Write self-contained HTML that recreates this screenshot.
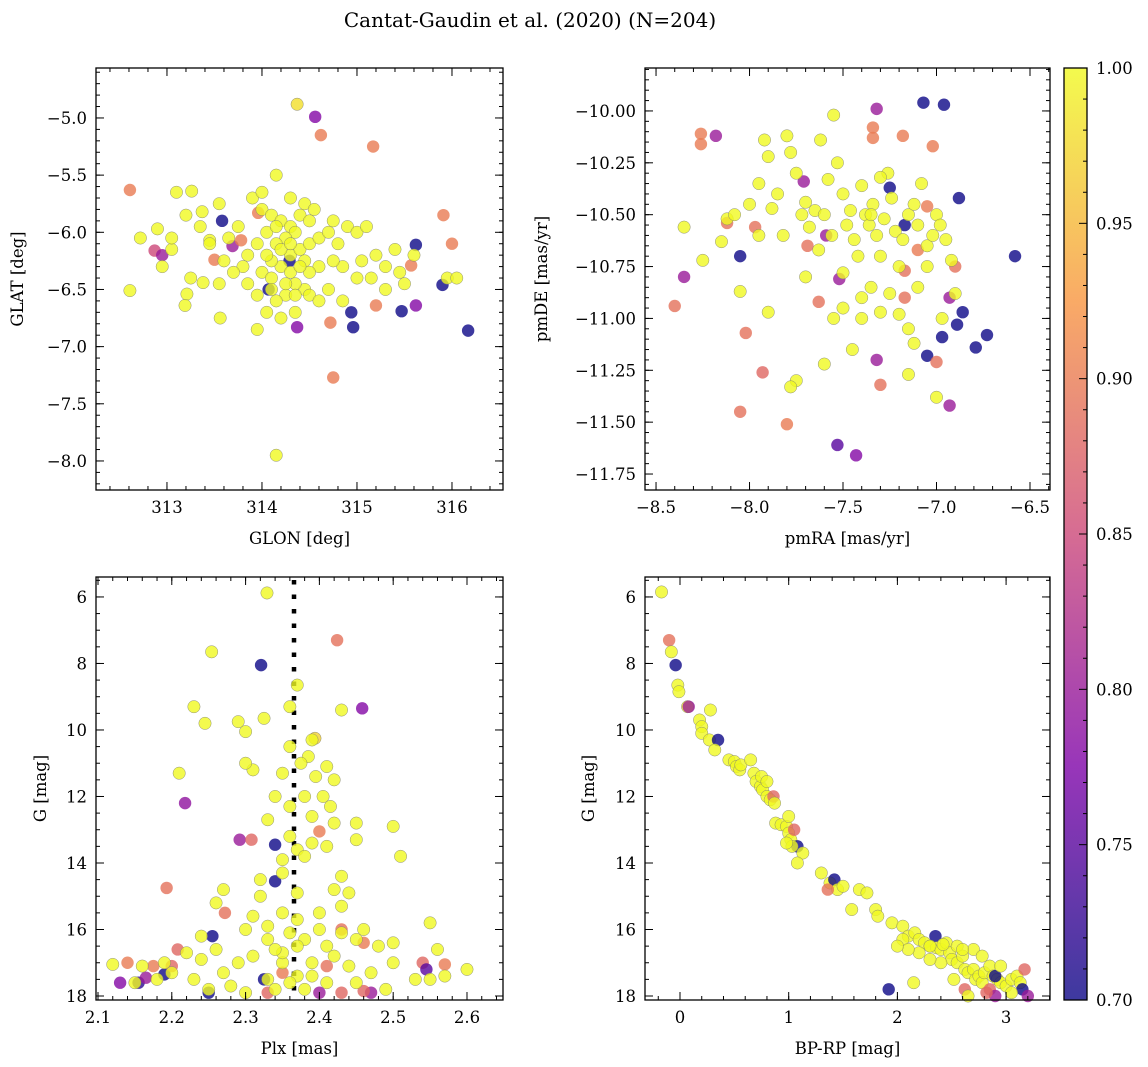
<!DOCTYPE html>
<html><head><meta charset="utf-8"><style>
body{margin:0;background:#fff;}
svg{display:block;font-family:"DejaVu Serif","Liberation Serif",serif;}
</style></head><body>
<svg id="fig" width="1148" height="1067" viewBox="0 0 1148 1067">
<text x="530" y="27" text-anchor="middle" font-size="20">Cantat-Gaudin et al. (2020) (N=204)</text>
</svg>
<script>
// Panel 1: GLON, GLAT, prob
const p1Lon=[312.61,312.61,312.87,312.95,312.72,312.9,313.05,313.21,313.19,313.26,313.38,313.37,313.45,313.5,313.56,313.58,313.69,313.78,313.96,314.07,314.15,314.37,314.56,314.62,315.17,315.91,316.0,316.17,315.9,315.62,315.62,315.47,315.2,314.94,314.96,314.75,314.72,314.37,314.29,315.57,
314.0,314.1,314.2,314.3,314.4,314.5,314.35,314.25,314.15,314.05,313.95,313.85,313.8,314.0,314.1,314.2,314.3,314.4,314.5,314.6,314.7,314.8,314.9,315.0,315.1,315.2,315.3,315.4,315.45,315.3,315.15,315.0,314.85,314.75,314.6,314.5,314.45,314.35,314.25,314.15,314.05,313.95,313.85,313.7,313.6,313.55,313.45,313.35,313.2,313.1,313.05,312.95,313.9,314.0,314.15,314.3,314.45,314.55,314.75,314.5,314.6,314.35,314.2,313.95,314.1,314.3,314.45,314.7,314.85,315.05,315.5,315.6,315.95,316.05,313.25,313.55,313.75,313.65,314.2,314.25,314.4,314.1,314.3,314.35,314.05,314.15];
const p1Lat=[-5.63,-6.51,-6.16,-6.2,-6.05,-5.97,-6.15,-6.54,-6.64,-5.64,-6.44,-5.82,-6.07,-6.24,-6.75,-5.9,-6.12,-6.07,-5.83,-6.5,-7.95,-4.88,-4.99,-5.15,-5.25,-5.85,-6.1,-6.86,-6.46,-6.11,-6.64,-6.69,-6.64,-6.7,-6.83,-7.27,-6.79,-6.83,-6.25,-6.29,
-5.8,-5.85,-5.9,-5.95,-5.85,-5.9,-6.0,-6.05,-6.1,-6.0,-6.1,-6.2,-6.3,-6.35,-6.4,-6.3,-6.2,-6.15,-6.1,-6.05,-6.0,-6.1,-5.95,-6.0,-5.95,-6.2,-6.3,-6.15,-6.35,-6.5,-6.4,-6.4,-6.3,-6.25,-6.3,-6.35,-6.5,-6.45,-6.55,-6.6,-6.7,-6.55,-6.45,-6.35,-6.25,-6.45,-6.1,-5.95,-5.85,-5.65,-6.05,-6.3,-5.7,-5.65,-5.5,-5.7,-5.75,-5.8,-5.9,-6.55,-6.6,-6.7,-6.75,-6.85,-6.25,-6.35,-6.25,-6.5,-6.6,-6.25,-6.45,-6.2,-6.4,-6.4,-6.4,-5.75,-5.95,-6.05,-6.15,-6.45,-6.3,-6.5,-6.1,-6.55,-6.2,-5.95];
const p1Prob=[0.9,1,0.85,0.8,1,1,1,1,1,1,1,1,1,0.9,1,0.7,0.8,0.9,0.9,0.7,1,0.98,0.78,0.9,0.9,0.9,0.9,0.7,0.7,0.7,0.78,0.7,0.9,0.7,0.7,0.9,0.9,0.78,0.7,0.9];
// Panel 2: pmRA, pmDE, prob
const p2Ra=[-7.07,-6.96,-7.32,-7.18,-7.02,-8.26,-8.26,-8.18,-7.25,-7.71,-7.34,-7.34,-6.88,-7.05,-6.58,-8.05,-7.69,-7.59,-8.35,-8.4,-8.12,-7.97,-8.02,-7.93,-8.05,-7.8,-7.63,-7.52,-7.53,-7.43,-7.32,-7.3,-7.17,-7.17,-7.1,-7.17,-6.93,-6.93,-7.05,-7.0,-6.9,-6.86,-6.89,-6.73,-6.79,-6.97,
-8.35,-8.25,-8.15,-8.12,-8.08,-8.05,-8.0,-7.95,-7.92,-7.9,-7.88,-7.85,-7.82,-7.8,-7.78,-7.75,-7.72,-7.7,-7.68,-7.65,-7.63,-7.6,-7.58,-7.56,-7.55,-7.53,-7.5,-7.48,-7.46,-7.44,-7.42,-7.4,-7.38,-7.36,-7.34,-7.32,-7.3,-7.28,-7.26,-7.24,-7.22,-7.2,-7.18,-7.15,-7.12,-7.1,-7.08,-7.05,-7.02,-7.0,-6.98,-6.95,-6.92,-6.9,-7.05,-7.1,-7.15,-7.2,-7.25,-7.35,-7.4,-7.45,-7.5,-7.55,-7.6,-7.7,-7.75,-7.78,-7.9,-7.95,-7.62,-7.35,-7.3,-7.15,-7.0,-6.97,-7.12,-7.4,-7.3,-7.5];
const p2De=[-9.96,-9.97,-9.99,-10.12,-10.17,-10.11,-10.16,-10.12,-10.37,-10.34,-10.08,-10.13,-10.42,-10.46,-10.7,-10.7,-10.65,-10.6,-10.8,-10.94,-10.54,-10.56,-11.07,-11.26,-11.45,-11.51,-10.92,-10.81,-11.61,-11.66,-11.2,-11.32,-10.9,-10.77,-10.67,-10.55,-10.9,-11.42,-11.18,-11.21,-10.75,-10.97,-11.03,-11.08,-11.14,-11.09,
-10.56,-10.72,-10.63,-10.52,-10.5,-10.87,-10.45,-10.35,-10.14,-10.22,-10.47,-10.4,-10.6,-10.12,-10.2,-10.3,-10.5,-10.44,-10.56,-10.48,-10.67,-10.5,-10.33,-10.6,-10.02,-10.25,-10.4,-10.55,-10.48,-10.62,-10.7,-10.36,-10.5,-10.55,-10.45,-10.6,-10.7,-10.52,-10.3,-10.42,-10.58,-10.75,-10.62,-10.5,-10.45,-10.55,-10.35,-10.65,-10.6,-10.5,-10.55,-10.62,-10.72,-10.88,-10.75,-10.85,-11.05,-10.98,-10.88,-10.85,-10.9,-11.15,-10.95,-11.0,-11.22,-10.8,-11.3,-11.33,-10.97,-10.6,-10.14,-10.5,-10.32,-11.27,-11.38,-11.0,-11.12,-11.0,-10.97,-10.78];
const p2Prob=[0.7,0.7,0.8,0.9,0.9,0.9,0.9,0.8,0.7,0.8,0.9,0.9,0.7,0.9,0.7,0.7,0.89,0.8,0.8,0.89,0.89,0.89,0.89,0.88,0.89,0.9,0.89,0.8,0.75,0.78,0.8,0.89,0.89,0.89,0.9,0.7,0.8,0.8,0.7,0.89,0.89,0.7,0.7,0.7,0.7,0.7];
// Panel 3: Plx, G, prob
const p3Plx=[2.424,2.321,2.458,2.394,2.218,2.292,2.308,2.34,2.34,2.193,2.272,2.4,2.208,2.255,2.43,2.46,2.54,2.545,2.57,2.13,2.155,2.165,2.19,2.2,2.25,2.325,2.33,2.4,2.43,2.47,2.46,2.41,2.35,2.14,2.175,
2.329,2.254,2.37,2.23,2.245,2.29,2.3,2.325,2.36,2.36,2.43,2.39,2.385,2.375,2.395,2.41,2.42,2.35,2.34,2.36,2.38,2.39,2.405,2.415,2.42,2.45,2.5,2.31,2.3,2.21,2.33,2.36,2.37,2.35,2.38,2.39,2.41,2.45,2.51,2.32,2.35,2.37,2.42,2.43,2.44,2.32,2.35,2.37,2.4,2.33,2.36,2.38,2.41,2.45,2.48,2.5,2.55,2.56,2.6,2.55,2.5,2.47,2.44,2.42,2.39,2.37,2.35,2.33,2.31,2.29,2.27,2.26,2.24,2.22,2.2,2.19,2.16,2.25,2.28,2.3,2.34,2.38,2.41,2.45,2.49,2.53,2.57,2.27,2.26,2.24,2.3,2.35,2.33,2.4,2.43,2.46,2.39,2.36,2.15,2.18,2.23,2.12,2.31,2.43,2.37,2.34];
const p3G=[7.3,8.05,9.35,10.25,12.2,13.3,13.3,13.45,14.55,14.75,15.5,13.05,16.6,16.2,16.0,16.4,17.0,17.2,17.05,17.6,17.6,17.45,17.35,17.1,17.9,17.5,17.9,17.9,17.9,17.9,17.85,17.1,17.3,17.0,17.1,
5.88,7.65,8.65,9.3,9.8,9.75,10.05,9.65,10.5,9.3,9.4,10.3,10.8,11.0,11.4,11.1,11.5,11.3,12.0,12.3,12.0,12.6,12.0,12.3,12.8,12.8,12.9,11.2,11.0,11.3,12.7,13.2,13.6,13.9,13.8,13.4,13.5,13.3,13.8,14.5,14.3,14.9,14.8,14.4,14.9,15.0,15.5,15.7,15.5,16.3,16.1,16.3,16.5,16.3,16.5,16.4,15.8,16.6,17.2,17.5,17.0,17.3,17.1,16.8,17.0,17.4,17.0,17.5,16.8,17.0,17.3,16.6,16.9,16.7,17.3,17.0,17.1,17.8,17.7,17.9,17.8,17.8,17.6,17.6,17.8,17.5,17.4,14.8,15.2,16.2,16.0,16.7,15.9,16.0,16.1,16.0,17.4,17.6,17.6,17.5,17.5,17.05,15.6,15.3,16.5,16.6];
const p3Prob=[0.89,0.7,0.78,0.97,0.79,0.8,0.88,0.7,0.7,0.89,0.89,0.9,0.88,0.7,0.89,0.9,0.88,0.75,0.9,0.78,0.72,0.8,0.7,0.88,0.7,0.7,0.88,0.8,0.88,0.8,0.88,0.89,0.9,0.9,0.9];
// Panel 4: BP-RP, G, prob
const p4Col=[-0.17,-0.1,-0.08,-0.04,-0.02,-0.01,0.07,0.08,0.18,0.2,0.2,0.27,0.35,0.28,0.32,0.45,0.5,0.52,0.55,0.56,0.65,0.68,0.7,0.74,0.76,0.8,0.83,0.86,0.75,0.8,0.87,0.88,0.93,0.98,1.0,1.02,1.05,1.08,1.03,0.98,1.0,1.13,1.08,1.3,1.38,1.42,1.45,1.36,1.5,1.65,1.72,1.58,1.8,1.82,1.95,2.05,2.1,2.05,2.16,2.2,2.25,2.3,2.35,2.36,2.4,2.45,2.48,2.5,2.55,2.55,2.6,2.62,2.65,2.7,2.72,2.75,2.78,2.8,2.85,2.88,2.92,2.95,3.0,3.05,3.1,3.13,3.15,3.2,3.17,2.9,2.85,2.62,2.52,2.4,2.3,2.2,2.1,2.0,2.15,1.92,2.7,2.78,2.95,3.05,2.65,2.9,2.82,2.3,2.42,2.6];
const p4G=[5.85,7.3,7.65,8.05,8.65,8.85,9.3,9.3,9.7,9.9,10.1,10.3,10.3,9.4,10.6,10.9,10.95,11.1,11.2,11.05,10.9,11.3,11.55,11.7,11.8,12.0,12.1,12.0,11.4,11.55,12.2,12.8,12.85,12.9,13.1,13.3,13.0,13.5,13.5,13.4,12.6,13.7,14.0,14.3,14.6,14.5,14.8,14.8,14.7,14.8,14.9,15.4,15.4,15.6,15.8,15.9,16.2,16.3,16.1,16.3,16.4,16.5,16.2,16.55,16.6,16.4,16.7,16.9,17.0,16.5,16.8,17.2,17.3,17.2,17.5,17.4,17.6,17.3,17.1,17.4,17.5,17.6,17.7,17.5,17.4,17.6,17.8,18.0,17.2,17.4,17.8,17.8,17.5,17.0,16.9,16.7,16.6,16.5,17.6,17.8,16.6,16.8,17.1,17.9,18.0,18.0,17.9,16.5,16.45,16.6];
const p4Prob=[1,0.89,1,0.7,1,1,1,0.8,1,1,1,1,0.7,1,1,1,1,1,1,1,1,1,1,1,1,1,1,0.88,1,1,1,1,1,1,1,1,0.88,0.7,1,1,1,1,1,1,1,0.7,1,0.89,1,1,1,1,1,1,1,1,1,1,1,1,1,1,0.7,1,1,1,1,1,1,1,1,1,1,1,1,1,1,1,1,1,1,1,1,1,1,1,0.7,0.8,0.88,0.7,0.88,0.88,1,1,1,1,1,1,1,0.7,1,1,1,1,1,0.8,0.88,1,1,1];
const p1Ticks=[313,314,315,316], p1YTicks=[-5.0,-5.5,-6.0,-6.5,-7.0,-7.5,-8.0];
const p2Ticks=[-8.5,-8.0,-7.5,-7.0,-6.5], p2YTicks=[-10.00,-10.25,-10.50,-10.75,-11.00,-11.25,-11.50,-11.75];
const p3Ticks=[2.1,2.2,2.3,2.4,2.5,2.6], gTicks=[6,8,10,12,14,16,18];
const p4Ticks=[0,1,2,3];
const cbTicks=[0.70,0.75,0.80,0.85,0.90,0.95,1.00];
const plxLine=2.3656;

const NS='http://www.w3.org/2000/svg', svg=document.getElementById('fig');
const FS=16.5;
function mk(tag,attrs,parent){const e=document.createElementNS(NS,tag);for(const k in attrs)e.setAttribute(k,attrs[k]);(parent||svg).appendChild(e);return e;}
const stops=[[0,[13,8,135]],[0.25,[126,3,168]],[0.5,[204,71,120]],[0.75,[248,149,64]],[1,[240,249,33]]];
function plasma(p){let t=Math.max(0,Math.min(1,(p-0.7)/0.3));
 for(let i=0;i<stops.length-1;i++){const a=stops[i],b=stops[i+1];if(t<=b[0]){const f=(t-a[0])/(b[0]-a[0]);return 'rgb('+a[1].map((v,j)=>Math.round(v+(b[1][j]-v)*f)).join(',')+')';}}
 return 'rgb(240,249,33)';}
function fmt(v,d){return (v<0?'\u2212':'')+Math.abs(v).toFixed(d);}

function panel(o){
 const g=mk('g',{});
 
 
 const sx=v=>o.x0+(v-o.xmin)/(o.xmax-o.xmin)*(o.x1-o.x0);
 const sy=v=>o.y0+(v-o.ymax)/(o.ymin-o.ymax)*(o.y1-o.y0);
 if(o.vline!==undefined){const l=mk('line',{x1:sx(o.vline),x2:sx(o.vline),y1:o.y0+3,y2:o.y1,stroke:'#000','stroke-width':4.5,'stroke-dasharray':'4.5 10'},g);
  }
 const pts=mk('g',{},g);
 
 for(let i=0;i<o.xs.length;i++){const p=i<o.ps.length?o.ps[i]:1;
  const c=mk('circle',{cx:sx(o.xs[i]),cy:sy(o.ys[i]),r:6.2,fill:plasma(p),'fill-opacity':0.8,stroke:p>0.95?'#777':'none','stroke-width':0.5,'stroke-opacity':0.8},pts);
  }
 mk('rect',{x:o.x0,y:o.y0,width:o.x1-o.x0,height:o.y1-o.y0,fill:'none',stroke:'#000','stroke-width':1.3},g);
 const tk=(a,b,step,len,isX)=>{const s=Math.ceil(a/step-1e-6);for(let k=s;k*step<=b+1e-9;k++){const v=k*step;
   if(isX){const x=sx(v);mk('line',{x1:x,x2:x,y1:o.y1,y2:o.y1-len,stroke:'#000'},g);mk('line',{x1:x,x2:x,y1:o.y0,y2:o.y0+len,stroke:'#000'},g);}
   else{const y=sy(v);mk('line',{x1:o.x0,x2:o.x0+len,y1:y,y2:y,stroke:'#000'},g);mk('line',{x1:o.x1,x2:o.x1-len,y1:y,y2:y,stroke:'#000'},g);}}};
 tk(o.xmin,o.xmax,o.xminor,4,true);tk(Math.min(o.ymin,o.ymax),Math.max(o.ymin,o.ymax),o.yminor,4,false);
 o.xt.forEach(v=>{const x=sx(v);mk('line',{x1:x,x2:x,y1:o.y1,y2:o.y1-8,stroke:'#000'},g);mk('line',{x1:x,x2:x,y1:o.y0,y2:o.y0+8,stroke:'#000'},g);
  const t=mk('text',{x:x,y:o.y1+23,'text-anchor':'middle','font-size':FS},g);t.textContent=fmt(v,o.xd);
  });
 o.yt.forEach(v=>{const y=sy(v);mk('line',{x1:o.x0,x2:o.x0+8,y1:y,y2:y,stroke:'#000'},g);mk('line',{x1:o.x1,x2:o.x1-8,y1:y,y2:y,stroke:'#000'},g);
  const t=mk('text',{x:o.x0-9,y:y+6,'text-anchor':'end','font-size':FS},g);t.textContent=fmt(v,o.yd);
  });
 const xl=mk('text',{x:(o.x0+o.x1)/2,y:o.y1+54,'text-anchor':'middle','font-size':FS},g);xl.textContent=o.xlabel;
 
 const yl=mk('text',{x:0,y:0,'text-anchor':'middle','font-size':FS,transform:'translate('+o.ylx+','+((o.y0+o.y1)/2)+') rotate(-90)'},g);yl.textContent=o.ylabel;
 
}
panel({name:'glon-glat-panel',x0:96,x1:503,y0:68,y1:490,xmin:312.253,xmax:316.537,ymin:-8.254,ymax:-4.563,xs:p1Lon,ys:p1Lat,ps:p1Prob,xt:p1Ticks,yt:p1YTicks,xd:0,yd:1,xminor:0.2,yminor:0.1,xlabel:'GLON [deg]',ylabel:'GLAT [deg]',ylx:23});
panel({name:'proper-motion-panel',x0:645,x1:1050,y0:68,y1:490,xmin:-8.559,xmax:-6.393,ymin:-11.827,ymax:-9.793,xs:p2Ra,ys:p2De,ps:p2Prob,xt:p2Ticks,yt:p2YTicks,xd:1,yd:2,xminor:0.1,yminor:0.05,xlabel:'pmRA [mas/yr]',ylabel:'pmDE [mas/yr]',ylx:547});
panel({name:'parallax-mag-panel',x0:96,x1:503,y0:577,y1:1000,xmin:2.0973,xmax:2.6488,ymin:18.12,ymax:5.4,xs:p3Plx,ys:p3G,ps:p3Prob,xt:p3Ticks,yt:gTicks,xd:1,yd:0,xminor:0.02,yminor:0.5,xlabel:'Plx [mas]',ylabel:'G [mag]',ylx:46,vline:plxLine});
panel({name:'cmd-panel',x0:645,x1:1050,y0:577,y1:1000,xmin:-0.322,xmax:3.404,ymin:18.12,ymax:5.4,xs:p4Col,ys:p4G,ps:p4Prob,xt:p4Ticks,yt:gTicks,xd:0,yd:0,xminor:0.2,yminor:0.5,xlabel:'BP-RP [mag]',ylabel:'G [mag]',ylx:594});
// colorbar
const cb=mk('g',{});
const defs=mk('defs',{},cb);const lg=mk('linearGradient',{id:'cbg',x1:0,y1:1,x2:0,y2:0},defs);
for(let i=0;i<=20;i++){const p=0.7+0.3*i/20;mk('stop',{offset:i/20,'stop-color':plasma(p),'stop-opacity':0.8},lg);}
const cy0=68,cy1=1000,cx0=1064,cx1=1087;
mk('rect',{x:cx0,y:cy0,width:cx1-cx0,height:cy1-cy0,fill:'url(#cbg)',stroke:'#000','stroke-width':1.3},cb);
const cby=v=>cy1-(v-0.7)/0.3*(cy1-cy0);
for(let k=70;k<=100;k++){const y=cby(k/100);mk('line',{x1:cx1,x2:cx1-(k%5===0?8:4),y1:y,y2:y,stroke:'#000'},cb);}
cbTicks.forEach(v=>{const t=mk('text',{x:cx1+9,y:cby(v)+6,'font-size':FS},cb);t.textContent=v.toFixed(2);
 });
</script>
</body></html>
